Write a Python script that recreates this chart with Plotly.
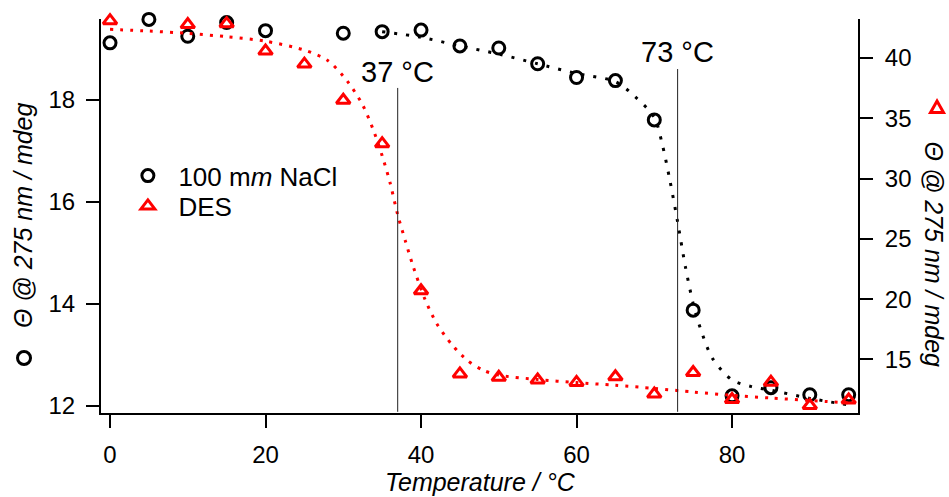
import plotly.graph_objects as go

# Temperature scan (°C)
temperature = [0, 5, 10, 15, 20, 25, 30, 35, 40, 45, 50, 55, 60, 65, 70, 75, 80, 85, 90, 95]

# CD signal at 275 nm, 100 mM NaCl (left axis, mdeg)
theta_nacl = [19.12, 19.58, 19.25, 19.52, 19.36, 19.59, 19.31, 19.34, 19.37, 19.06,
              19.02, 18.71, 18.44, 18.38, 17.61, 13.88, 12.20, 12.36, 12.22, 12.22]

# CD signal at 275 nm, DES (right axis, mdeg)
theta_des = [43.10, 43.45, 42.78, 42.85, 40.58, 39.50, 36.50, 32.90, 20.70, 13.80,
             13.52, 13.30, 13.10, 13.57, 12.13, 13.92, 11.68, 13.12, 11.18, 11.64]

# Sigmoidal fit, 100 mM NaCl
fit_nacl_t = [35, 40, 45, 50, 55, 60, 65, 67.5, 70, 71, 72, 73, 74, 75, 76, 77.5, 80, 82.5, 85, 90, 95]
fit_nacl_v = [19.34, 19.23, 19.06, 18.90, 18.71, 18.52, 18.36, 18.07, 17.66, 17.15, 16.43,
              15.61, 14.73, 14.01, 13.49, 12.93, 12.51, 12.38, 12.31, 12.15, 12.02]

# Sigmoidal fit, DES
fit_des_t = [0, 5, 10, 15, 20, 25, 28, 30.5, 32.5, 34, 35, 36, 37, 38, 39, 40.5, 42, 44, 46, 48,
             50, 55, 60, 65, 70, 75, 80, 85, 90, 95]
fit_des_v = [42.38, 42.24, 42.05, 41.77, 41.40, 40.66, 39.8, 38.1, 36.1, 33.8, 31.9, 29.7, 27.0,
             24.8, 22.7, 20.0, 18.0, 16.2, 14.9, 14.1, 13.7, 13.34, 13.08, 12.86, 12.6, 12.3,
             12.03, 11.8, 11.6, 11.4]

# Melting temperatures
tm_values = [37, 73]
tm_labels = ["37 °C", "73 °C"]

FONT = "Liberation Sans, Arial, sans-serif"
RED = "#ff0000"

fig = go.Figure()

fig.add_trace(go.Scatter(
    x=fit_nacl_t, y=fit_nacl_v, mode="lines", yaxis="y", showlegend=False,
    line=dict(color="black", width=3, dash="3px,9px", shape="spline", smoothing=0.8),
    hoverinfo="skip"))
fig.add_trace(go.Scatter(
    x=temperature, y=theta_nacl, mode="markers", yaxis="y", cliponaxis=False,
    name="100 m<i>m</i> NaCl", legend="legend",
    marker=dict(symbol="circle-open", size=12, color="black", line=dict(width=3, color="black"))))
fig.add_trace(go.Scatter(
    x=fit_des_t, y=fit_des_v, mode="lines", yaxis="y2", showlegend=False,
    line=dict(color=RED, width=3, dash="3px,7px", shape="spline", smoothing=0.8),
    hoverinfo="skip"))
fig.add_trace(go.Scatter(
    x=temperature, y=theta_des, mode="markers", yaxis="y2", name="DES", cliponaxis=False,
    legend="legend2",
    marker=dict(symbol="triangle-up-open", size=12, color=RED, line=dict(width=3, color=RED))))

shapes = []
annotations = []
for tm, lab, top, ty in zip(tm_values, tm_labels, [0.825, 0.873], [0.8655, 0.9162]):
    shapes.append(dict(type="line", xref="x", yref="paper", x0=tm, x1=tm, y0=0.003, y1=top,
                       line=dict(color="#222222", width=1)))
    annotations.append(dict(x=tm, y=ty, xref="x", yref="paper", text=lab, showarrow=False,
                            xanchor="center", yanchor="middle",
                            font=dict(family=FONT, size=29, color="black")))

# Axis titles with their series symbols
annotations.append(dict(x=0.501, y=-0.1755, xref="paper", yref="paper",
                        text="<i>Temperature / °C</i>", showarrow=False,
                        xanchor="center", yanchor="middle",
                        font=dict(family=FONT, size=25, color="black")))
annotations.append(dict(x=-0.103, y=0.5025, xref="paper", yref="paper", textangle=-90,
                        text="<i>Θ @ 275 nm / mdeg</i>", showarrow=False,
                        xanchor="center", yanchor="middle",
                        font=dict(family=FONT, size=25, color="black")))
annotations.append(dict(x=1.101, y=0.401, xref="paper", yref="paper", textangle=90,
                        text="<i>Θ @ 275 nm / mdeg</i>", showarrow=False,
                        xanchor="center", yanchor="middle",
                        font=dict(family=FONT, size=25, color="black")))
shapes.append(dict(type="circle", xref="paper", yref="paper", xsizemode="pixel", ysizemode="pixel",
                   xanchor=-0.1017, yanchor=0.1396, x0=-6.5, x1=6.5, y0=-6.5, y1=6.5,
                   line=dict(color="black", width=3)))
shapes.append(dict(type="path", xref="paper", yref="paper", xsizemode="pixel", ysizemode="pixel",
                   xanchor=1.1044, yanchor=0.7741, path="M -6.5,-4.5 L 6.5,-4.5 L 0,7 Z",
                   line=dict(color=RED, width=3)))

axis_common = dict(showline=True, linecolor="black", linewidth=2, ticks="outside", ticklen=13,
                   tickwidth=1.5, tickcolor="black", showgrid=False, zeroline=False,
                   automargin=False, tickfont=dict(family=FONT, size=24, color="black"))

legend_common = dict(x=0.0375, xanchor="left", yanchor="top", bgcolor="rgba(0,0,0,0)",
                     itemwidth=51, indentation=-12,
                     font=dict(family=FONT, size=26, color="black"))

fig.update_layout(
    width=949, height=497,
    margin=dict(l=101, r=91, t=19, b=84),
    paper_bgcolor="white", plot_bgcolor="white",
    font=dict(family=FONT, color="black"),
    xaxis=dict(range=[-1.16, 96.2], tickvals=[0, 20, 40, 60, 80], ticklabelstandoff=6,
               **axis_common),
    yaxis=dict(range=[11.863, 19.588], tickvals=[12, 14, 16, 18], ticklabelstandoff=6,
               **axis_common),
    yaxis2=dict(range=[10.56, 43.24], tickvals=[15, 20, 25, 30, 35, 40], overlaying="y",
                side="right", ticklabelstandoff=7, **axis_common),
    legend=dict(y=0.662, **legend_common),
    legend2=dict(y=0.585, **legend_common),
    shapes=shapes,
    annotations=annotations,
)

fig.write_html("out.html")
